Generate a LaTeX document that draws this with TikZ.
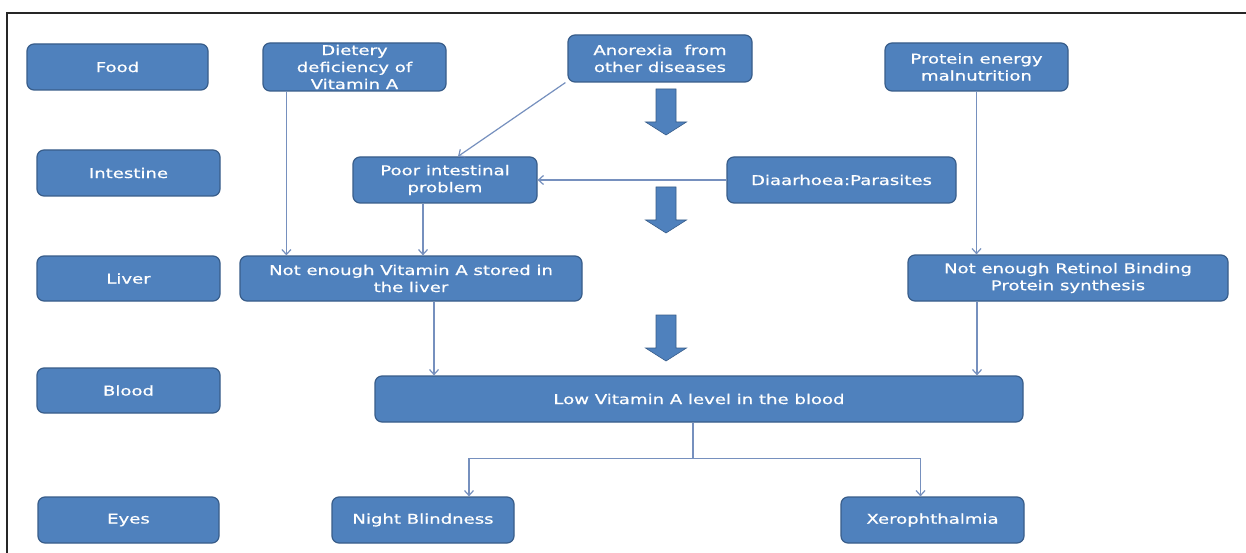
\documentclass[tikz,border=0pt]{standalone}
\usepackage{fontspec}
\newfontfamily\boxfont[FakeStretch=1.34,FakeBold=0.6]{DejaVu Sans}
\usetikzlibrary{arrows.meta}
\definecolor{boxfill}{RGB}{79,129,189}
\definecolor{boxline}{RGB}{56,93,138}
\definecolor{connline}{RGB}{118,144,190}
\tikzset{
  box/.style={draw=boxline, line width=1.2pt, fill=boxfill, rounded corners=7pt,
    text=white, font=\boxfont\fontsize{13.5}{17}\selectfont, align=center, inner sep=0pt},
  conn/.style={draw=connline, line width=1.2pt},
  arr/.style={conn, -{Straight Barb[length=5pt,width=9pt]}},
  frame/.style={draw=black!85, line width=1.3pt},
  blockarrow/.pic={
    \filldraw[fill=boxfill, draw=boxline, line width=0.6pt]
      (-10,0) -- (10,0) -- (10,33) -- (20.5,33) -- (0,46) -- (-20.5,33) -- (-10,33) -- cycle;
  }
}
\begin{document}
\begin{tikzpicture}[x=1pt, y=-1pt]
\useasboundingbox (0,0) rectangle (1246,553);
\fill[white] (0,0) rectangle (1246,553);
\draw[frame] (7,553) -- (7,13) -- (1246,13);

% level labels
\node[box, minimum width=181pt, minimum height=46pt] (food) at (117.5,67) {Food};
\node[box, minimum width=183pt, minimum height=46pt] (intest) at (128.5,173) {Intestine};
\node[box, minimum width=183pt, minimum height=45pt] (liver) at (128.5,278.5) {Liver};
\node[box, minimum width=183pt, minimum height=45pt] (blood) at (128.5,390.5) {Blood};
\node[box, minimum width=181pt, minimum height=46pt] (eyes) at (128.5,520) {Eyes};

% causes
\node[box, minimum width=183pt, minimum height=48pt] (diet) at (354.5,67) {Dietery\\deficiency of\\Vitamin A};
\node[box, minimum width=184pt, minimum height=47pt] (anor) at (660,58.5) {Anorexia~~from\\other diseases};
\node[box, minimum width=183pt, minimum height=48pt] (prot) at (976.5,67) {Protein energy\\malnutrition};
\node[box, minimum width=184pt, minimum height=46pt] (poor) at (445,180) {Poor intestinal\\problem};
\node[box, minimum width=229pt, minimum height=46pt] (diaa) at (841.5,180) {Diaarhoea:Parasites};
\node[box, minimum width=342pt, minimum height=45pt] (nva) at (411,278.5) {Not enough Vitamin A stored in\\the liver};
\node[box, minimum width=320pt, minimum height=46pt] (rbp) at (1068,278) {Not enough Retinol Binding\\Protein synthesis};
\node[box, minimum width=648pt, minimum height=46pt] (low) at (699,399) {Low Vitamin A level in the blood};
\node[box, minimum width=182pt, minimum height=46pt] (night) at (423,520) {Night Blindness};
\node[box, minimum width=183pt, minimum height=46pt] (xero) at (932.5,520) {Xerophthalmia};

% block arrows
\pic at (666,89) {blockarrow};
\pic at (666,187) {blockarrow};
\pic at (666,315) {blockarrow};

% connectors
\draw[arr] ([xshift=24pt]diet.south west) -- ([xshift=24pt]diet.south west |- nva.north);
\draw[arr] ([xshift=-2pt]anor.south west) -- ([xshift=13pt]poor.north);
\draw[arr] (diaa.west) -- (poor.east);
\draw[arr] ([xshift=-22pt]poor.south) -- ([xshift=-22pt]poor.south |- nva.north);
\draw[arr] (prot.south) -- (prot.south |- rbp.north);
\draw[arr] ([xshift=23pt]nva.south) -- ([xshift=23pt]nva.south |- low.north);
\draw[arr] ([xshift=-91pt]rbp.south) -- ([xshift=-91pt]rbp.south |- low.north);
\draw[conn] ([xshift=-6pt]low.south) -- ++(0,36) coordinate (split);
\draw[arr] (split) -| ([xshift=46pt]night.north);
\draw[arr] (split) -| ([xshift=-12pt]xero.north);
\end{tikzpicture}
\end{document}
